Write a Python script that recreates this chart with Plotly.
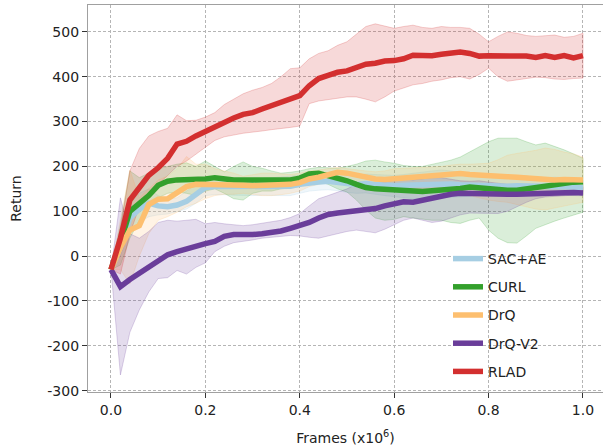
import plotly.graph_objects as go

frames = [0.00, 0.02, 0.04, 0.06, 0.08, 0.10, 0.12, 0.14, 0.16, 0.18,
          0.20, 0.22, 0.24, 0.26, 0.28, 0.30, 0.32, 0.34, 0.36, 0.38,
          0.40, 0.42, 0.44, 0.46, 0.48, 0.50, 0.52, 0.54, 0.56, 0.58,
          0.60, 0.62, 0.64, 0.66, 0.68, 0.70, 0.72, 0.74, 0.76, 0.78,
          0.80, 0.82, 0.84, 0.86, 0.88, 0.90, 0.92, 0.94, 0.96, 0.98, 1.00]

sac_mean = [-30, 20, 85, 105, 118, 112, 110, 114, 122, 138, 153, 155, 155, 154, 153, 153, 154, 155, 155, 156,
            160, 164, 165, 167, 166, 162, 160, 162, 160, 158, 157, 158, 159, 160, 161, 163, 161, 159, 158, 158,
            158, 157, 156, 157, 157, 156, 155, 157, 156, 154, 153]
sac_upper = [-30, 40, 115, 140, 150, 135, 128, 130, 145, 160, 172, 174, 175, 173, 172, 172, 173, 175, 176, 178,
             180, 182, 183, 185, 185, 182, 180, 183, 182, 180, 180, 182, 185, 188, 190, 192, 190, 186, 183, 180,
             178, 177, 178, 180, 178, 176, 175, 176, 175, 172, 170]
sac_lower = [-30, 0, 60, 75, 88, 92, 94, 100, 105, 118, 135, 137, 137, 136, 135, 135, 136, 136, 135, 135,
             140, 145, 147, 148, 146, 142, 140, 141, 138, 135, 133, 130, 128, 127, 128, 130, 132, 133, 134, 135,
             136, 136, 134, 133, 135, 136, 135, 137, 136, 135, 134]

curl_mean = [-30, 30, 100, 118, 135, 158, 167, 170, 170, 170, 172, 175, 172, 170, 170, 170, 169, 168, 168, 170,
             174, 183, 185, 180, 174, 168, 160, 153, 150, 149, 147, 145, 144, 144, 146, 147, 148, 151, 154, 152,
             149, 147, 147, 147, 150, 154, 158, 161, 163, 165, 166]
curl_upper = [-30, 70, 190, 175, 185, 195, 200, 205, 208, 200, 212, 200, 188, 200, 210, 200, 196, 190, 185, 187,
              190, 195, 198, 197, 196, 200, 205, 212, 214, 210, 207, 202, 200, 200, 205, 210, 214, 221, 232, 244,
              255, 263, 263, 263, 255, 248, 252, 245, 237, 228, 218]
curl_lower = [-30, -20, 40, 80, 108, 130, 140, 143, 140, 135, 145, 150, 140, 128, 125, 140, 145, 145, 150, 152,
              155, 165, 168, 160, 150, 143, 125, 103, 85, 80, 82, 88, 85, 82, 80, 80, 75, 73, 80, 85,
              58, 40, 30, 29, 45, 62, 70, 78, 85, 92, 98]

drq_mean = [-30, 20, 58, 68, 115, 127, 128, 143, 155, 160, 160, 161, 160, 158, 158, 157, 157, 157, 158, 160,
            164, 172, 176, 182, 187, 185, 180, 176, 172, 171, 173, 175, 177, 177, 178, 180, 182, 184, 182, 180,
            179, 178, 177, 176, 174, 172, 170, 170, 171, 171, 170]
drq_upper = [-30, 80, 192, 130, 150, 170, 178, 195, 222, 205, 205, 195, 190, 185, 178, 182, 185, 185, 183, 182,
             185, 190, 192, 195, 198, 195, 192, 190, 188, 190, 195, 196, 198, 198, 200, 200, 203, 205, 205, 206,
             207, 215, 225, 229, 232, 236, 241, 238, 232, 228, 221]
drq_lower = [-30, -30, -62, 0, 50, 80, 88, 98, 110, 118, 128, 135, 138, 138, 140, 138, 135, 135, 137, 140,
             145, 155, 160, 165, 170, 168, 163, 158, 155, 152, 150, 150, 152, 150, 148, 145, 142, 140, 135, 130,
             125, 122, 120, 115, 110, 105, 103, 108, 112, 116, 120]

drqv2_mean = [-30, -68, -52, -38, -22, -8, 3, 10, 17, 23, 28, 33, 44, 48, 47, 48, 50, 52, 56, 62,
              67, 75, 85, 93, 96, 99, 101, 102, 106, 112, 118, 121, 120, 125, 130, 133, 138, 140, 139, 138,
              138, 138, 138, 138, 139, 140, 140, 141, 142, 142, 141]
drqv2_upper = [-30, 130, 50, 40, 55, 75, 80, 78, 80, 82, 72, 75, 72, 70, 68, 70, 73, 76, 80, 86,
               95, 112, 128, 135, 142, 150, 160, 165, 162, 165, 170, 172, 170, 172, 175, 175, 172, 168, 167, 168,
               165, 162, 160, 160, 158, 157, 157, 156, 155, 155, 155]
drqv2_lower = [-30, -265, -170, -120, -80, -50, -48, -32, -40, -25, -15, 10, 22, 30, 33, 36, 40, 42, 44, 46,
               45, 42, 40, 45, 50, 55, 58, 55, 52, 60, 70, 80, 85, 80, 75, 78, 85, 92, 96, 96,
               95, 95, 100, 110, 120, 128, 132, 134, 135, 136, 137]

rlad_mean = [-30, 40, 125, 155, 180, 197, 218, 250, 256, 268, 278, 287, 300, 308, 316, 320, 328, 336, 344, 350,
             358, 380, 396, 403, 410, 413, 422, 428, 430, 435, 436, 440, 448, 446, 447, 450, 453, 455, 452, 446,
             447, 447, 447, 446, 446, 443, 447, 443, 447, 442, 447]
rlad_upper = [-30, 60, 190, 240, 268, 278, 285, 315, 302, 303, 310, 320, 338, 350, 362, 370, 376, 385, 400, 418,
              420, 440, 452, 458, 470, 478, 495, 512, 518, 513, 508, 512, 515, 510, 508, 512, 510, 510, 508, 495,
              478, 490, 500, 497, 492, 490, 492, 493, 488, 490, 497]
rlad_lower = [-30, -40, 50, 110, 140, 160, 180, 200, 212, 228, 243, 258, 266, 270, 274, 277, 279, 282, 285, 287,
              290, 340, 346, 348, 352, 355, 355, 350, 344, 355, 368, 375, 382, 385, 390, 393, 398, 400, 395, 405,
              419, 400, 390, 392, 396, 399, 398, 395, 394, 396, 397]

series_names = ["SAC+AE", "CURL", "DrQ", "DrQ-V2", "RLAD"]
series_colors = ["#a6cee3", "#33a02c", "#fdbf6f", "#6a3d9a", "#d32f2f"]
series_means = [sac_mean, curl_mean, drq_mean, drqv2_mean, rlad_mean]
series_uppers = [sac_upper, curl_upper, drq_upper, drqv2_upper, rlad_upper]
series_lowers = [sac_lower, curl_lower, drq_lower, drqv2_lower, rlad_lower]

x_tick_vals = [0.0, 0.2, 0.4, 0.6, 0.8, 1.0]
x_tick_text = ["0.0", "0.2", "0.4", "0.6", "0.8", "1.0"]
y_tick_vals = [-300, -200, -100, 0, 100, 200, 300, 400, 500]
y_tick_text = ["-300", "-200", "-100", "0", "100", "200", "300", "400", "500"]


def rgba(hex_color, a):
    h = hex_color.lstrip("#")
    r, g, b = int(h[0:2], 16), int(h[2:4], 16), int(h[4:6], 16)
    return f"rgba({r},{g},{b},{a})"


fig = go.Figure()
for name, color, mean, up, lo in zip(series_names, series_colors, series_means,
                                     series_uppers, series_lowers):
    fig.add_trace(go.Scatter(
        x=frames + frames[::-1], y=up + lo[::-1],
        fill="toself", fillcolor=rgba(color, 0.18),
        line=dict(color=rgba(color, 0.22), width=1),
        mode="lines", showlegend=False, hoverinfo="skip", legendgroup=name))
for name, color, mean in zip(series_names, series_colors, series_means):
    fig.add_trace(go.Scatter(
        x=frames, y=mean, mode="lines", name=name, legendgroup=name,
        line=dict(color=color, width=5.5)))

font_family = "DejaVu Sans"
axis_common = dict(
    showgrid=True, gridcolor="#b5b5b5", gridwidth=1, griddash="3px,2px",
    zeroline=False, showline=True, linecolor="#a0a0a0", linewidth=1.3,
    ticks="outside", ticklen=5, tickwidth=1.2, tickcolor="#333333",
    tickfont=dict(family=font_family, size=14, color="#222222"),
    automargin=False,
)
fig.update_layout(
    width=603, height=447,
    margin=dict(l=88, r=0, t=5, b=55),
    paper_bgcolor="white", plot_bgcolor="white",
    font=dict(family=font_family, size=14, color="#222222"),
    xaxis=dict(range=[-0.0487, 1.0424], tickvals=x_tick_vals, ticktext=x_tick_text,
               mirror=True,
               title=dict(text="Frames (x10<sup>6</sup>)", font=dict(family=font_family, size=14),
                          standoff=16),
               **axis_common),
    yaxis=dict(range=[-303, 560], tickvals=y_tick_vals, ticktext=y_tick_text,
               title=dict(text="Return", font=dict(family=font_family, size=14), standoff=22),
               **axis_common),
    legend=dict(x=0.699, y=0.385, xanchor="left", yanchor="top",
                bgcolor="rgba(0,0,0,0)", borderwidth=0,
                font=dict(family=font_family, size=14, color="#222222"),
                tracegroupgap=7, itemwidth=30),
    showlegend=True,
)

fig.write_html("out.html",
               config={"displayModeBar": False},
               post_script="document.body.style.margin='0';document.body.style.overflow='hidden';")
